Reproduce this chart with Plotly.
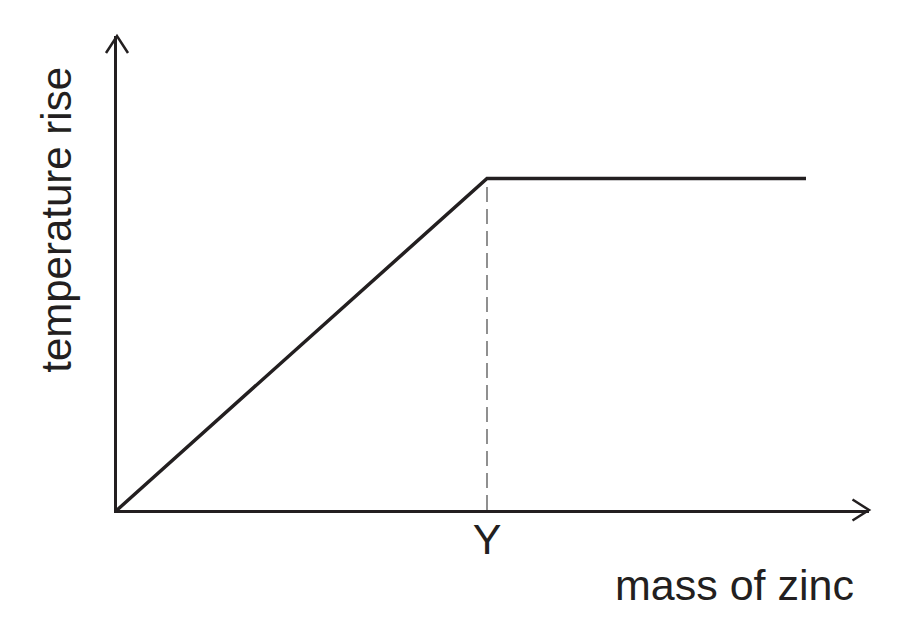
import plotly.graph_objects as go

# schematic values (arbitrary units, no numeric ticks on the original)
mass_of_zinc = [0, 37.0, 68.9]
temperature_rise = [0, 33.15, 33.15]
x_tick_labels = ["Y"]

x_axis_end = 75.2
y_axis_end = 47.4

ink = "#231f20"
font_family = "Liberation Sans, Arial, sans-serif"

fig = go.Figure()

# dashed drop line from the end point of the rise to the x axis
fig.add_trace(
    go.Scatter(
        x=[mass_of_zinc[1], mass_of_zinc[1]],
        y=[0, temperature_rise[1]],
        mode="lines",
        line=dict(color="#555555", width=1.3, dash="15px,7px"),
        showlegend=False,
        hoverinfo="skip",
    )
)

fig.add_trace(
    go.Scatter(
        x=mass_of_zinc,
        y=temperature_rise,
        mode="lines",
        line=dict(color=ink, width=3.5),
        showlegend=False,
        cliponaxis=False,
    )
)

# open arrow heads at the ends of both axes (paper refs so they aren't clipped)
arrow_shapes = [
    dict(
        type="path",
        xref="paper",
        yref="paper",
        xsizemode="pixel",
        ysizemode="pixel",
        xanchor=0,
        yanchor=1,
        path="M-11,-17 L0,0 L11,-17",
        line=dict(color=ink, width=2.5),
    ),
    dict(
        type="path",
        xref="paper",
        yref="paper",
        xsizemode="pixel",
        ysizemode="pixel",
        xanchor=1,
        yanchor=0,
        path="M-16.5,10.5 L0,0 L-16.5,-10.5",
        line=dict(color=ink, width=2.5),
    ),
]

# page body has an 8px margin, so the figure is 8px smaller than the window
fig.update_layout(
    width=897,
    height=635,
    margin=dict(l=109, r=36, t=28, b=133),
    plot_bgcolor="white",
    paper_bgcolor="white",
    font=dict(family=font_family, color=ink),
    shapes=arrow_shapes,
    xaxis=dict(
        range=[0, x_axis_end],
        showgrid=False,
        zeroline=False,
        showline=True,
        linecolor=ink,
        linewidth=3,
        tickvals=[mass_of_zinc[1]],
        ticktext=x_tick_labels,
        ticks="",
        tickfont=dict(size=43, color=ink),
        ticklabelstandoff=-11,
    ),
    yaxis=dict(
        range=[0, y_axis_end],
        showgrid=False,
        zeroline=False,
        showline=True,
        linecolor=ink,
        linewidth=3,
        showticklabels=False,
        ticks="",
    ),
    annotations=[
        dict(
            text="mass of zinc",
            xref="paper",
            yref="paper",
            x=0.983,
            y=-0.103,
            xanchor="right",
            yanchor="top",
            showarrow=False,
            font=dict(size=43, color=ink),
        ),
        dict(
            text="temperature rise",
            xref="paper",
            yref="paper",
            x=-0.08,
            y=0.612,
            xanchor="center",
            yanchor="middle",
            textangle=-90,
            showarrow=False,
            font=dict(size=42, color=ink),
        ),
    ],
)

fig.write_html("out.html")
